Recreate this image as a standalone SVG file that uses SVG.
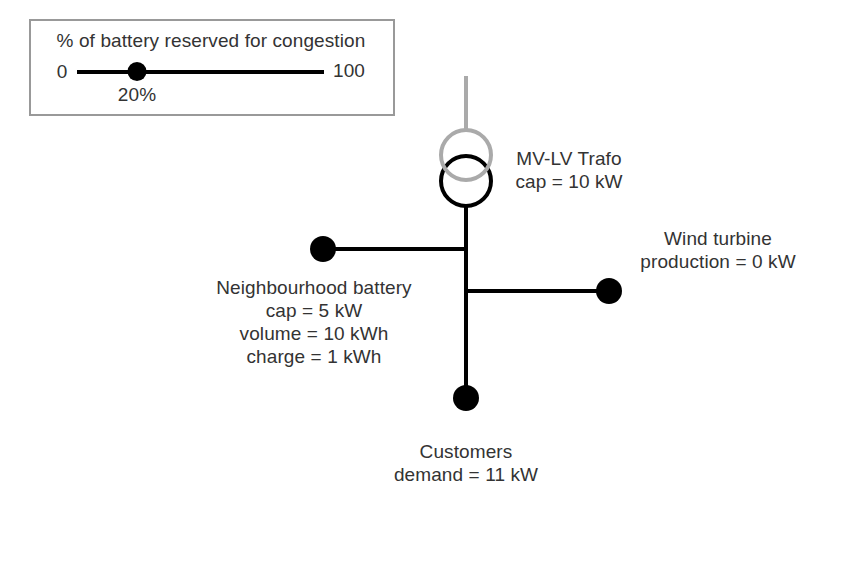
<svg xmlns="http://www.w3.org/2000/svg" width="857" height="588" viewBox="0 0 857 588">
<style>
text{font-family:"Liberation Sans",Arial,sans-serif;font-size:19px;letter-spacing:.1px;fill:#333;text-anchor:middle}
.w{stroke:#000;stroke-width:4;fill:none}
.g{stroke:#aaa;stroke-width:4;fill:none}
.d{fill:#000}
</style>
<rect width="857" height="588" fill="#fff"/>
<g id="slider">
<rect x="30" y="20" width="364" height="95" fill="#fff" stroke="#999" stroke-width="2"/>
<text x="211" y="47">% of battery reserved for congestion</text>
<text x="62" y="78">0</text>
<text x="349" y="77">100</text>
<line x1="77" y1="72" x2="324" y2="72" class="w"/>
<circle cx="137" cy="71.5" r="9.5" class="d"/>
<text x="137" y="101">20%</text>
</g>
<g id="connectors">
<line x1="466" y1="206" x2="466" y2="398" class="w"/>
<line x1="323" y1="249" x2="466" y2="249" class="w"/>
<line x1="466" y1="291" x2="609" y2="291" class="w"/>
<line x1="466" y1="76" x2="466" y2="130" class="g"/>
</g>
<g id="trafo">
<circle cx="466" cy="181" r="25" class="w"/>
<circle cx="466" cy="155" r="25" class="g"/>
<text x="569" y="165">MV-LV Trafo</text>
<text x="569" y="188">cap = 10 kW</text>
</g>
<g id="battery">
<circle cx="323" cy="249" r="13" class="d"/>
<text x="314" y="294">Neighbourhood battery</text>
<text x="314" y="317">cap = 5 kW</text>
<text x="314" y="340">volume = 10 kWh</text>
<text x="314" y="363">charge = 1 kWh</text>
</g>
<g id="wind">
<circle cx="609" cy="291" r="13" class="d"/>
<text x="718" y="245">Wind turbine</text>
<text x="718" y="268">production = 0 kW</text>
</g>
<g id="customers">
<circle cx="466" cy="398" r="13" class="d"/>
<text x="466" y="458">Customers</text>
<text x="466" y="481">demand = 11 kW</text>
</g>
</svg>
